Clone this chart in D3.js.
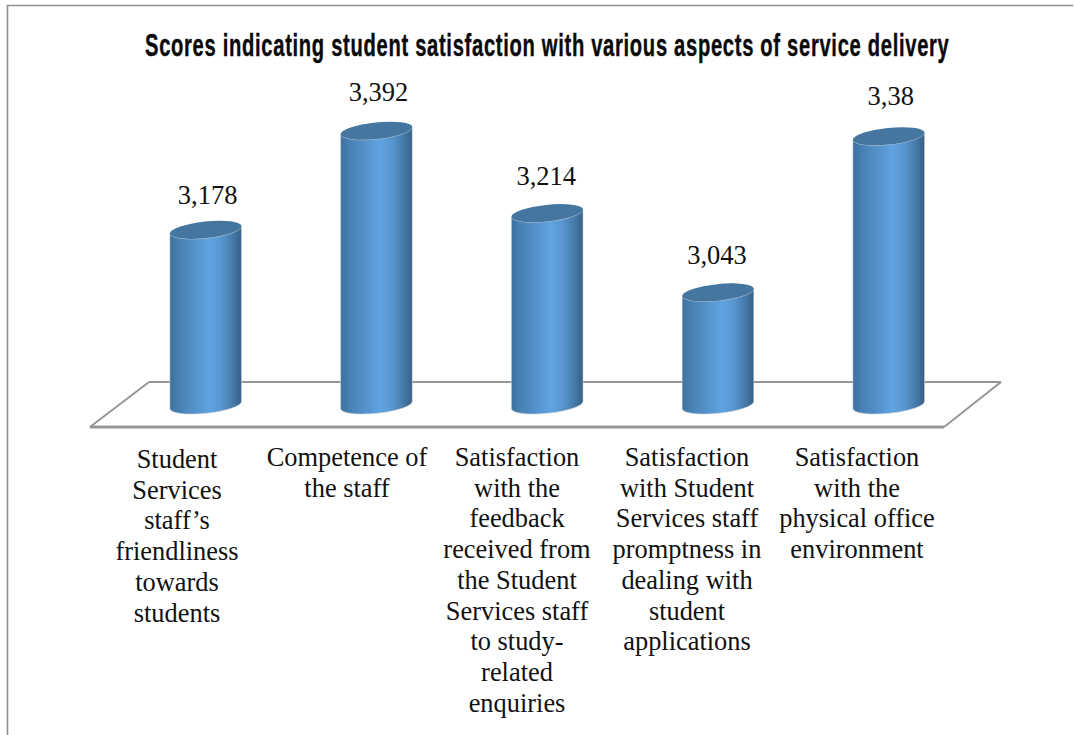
<!DOCTYPE html>
<html><head><meta charset="utf-8">
<script src="https://cdn.jsdelivr.net/npm/d3@7/dist/d3.min.js"></script>
<style>html,body{margin:0;padding:0;background:#fff;overflow:hidden}svg{display:block}</style>
</head><body>
<script>
const titleText = "Scores indicating student satisfaction with various aspects of service delivery";
const categories = ["friendliness","competence","feedback","promptness","environment"];
const categoryLines = [
  ["Student","Services","staff’s","friendliness","towards","students"],
  ["Competence of","the staff"],
  ["Satisfaction","with the","feedback","received from","the Student","Services staff","to study-","related","enquiries"],
  ["Satisfaction","with Student","Services staff","promptness in","dealing with","student","applications"],
  ["Satisfaction","with the","physical office","environment"]
];
const values = [3.178, 3.392, 3.214, 3.043, 3.38];
const labelNudgeX = [2, 2, -1, -1, 2];
const labelNudgeY = [-26, -30, -28, -28, -31];

const W = 1074, H = 735;
const svg = d3.select("body").append("svg").attr("width", W).attr("height", H);
const defs = svg.append("defs");
const grad = defs.append("linearGradient").attr("id","cyl").attr("x1","0").attr("x2","1").attr("y1","0").attr("y2","0");
[[0,"#3c719f"],[0.12,"#4780b2"],[0.35,"#5592cb"],[0.55,"#5fa4e1"],[0.72,"#5896d0"],[0.88,"#467aa8"],[1,"#365f86"]]
  .forEach(([o,c]) => grad.append("stop").attr("offset",o).attr("stop-color",c));

const x = d3.scaleBand().domain(categories).range([120.3, 974.1]).paddingInner(0.578).paddingOuter(0.289);
const y = d3.scaleLinear().domain([2.8, 3.4]).range([405, 127]);
const labelX = d3.scalePoint().domain(categories).range([177, 857]);

// frame
svg.append("path").attr("d",`M7.5,${H} V5.5 H${W-1}`).attr("fill","none").attr("stroke","#8f8f8f").attr("stroke-width",1.6);

// floor
const floor = d3.line();
const stroke = (d,w) => svg.append("path").attr("d", floor(d)).attr("stroke","#969696").attr("stroke-width",w).attr("fill","none");
stroke([[149,382],[1001,382]],2);
stroke([[149,382],[90,427]],2);
stroke([[1001,382],[944,427]],2);
stroke([[90,427],[944,427]],3);

// cylinders
const tilt = 6 * Math.PI / 180;
const g = svg.append("g");
categories.forEach((c,i) => {
  const rx = x.bandwidth()/2, ry = 8.3;
  const cx = x(c) + rx;
  const dx = rx*Math.cos(tilt), dy = rx*Math.sin(tilt);
  const yt = y(values[i]), yb = y.range()[0];
  const body = `M${cx-dx},${yt+dy} L${cx-dx},${yb+dy} A${rx},${ry} -6 0 0 ${cx+dx},${yb-dy} L${cx+dx},${yt-dy} A${rx},${ry} -6 0 1 ${cx-dx},${yt+dy} Z`;
  g.append("path").attr("d",body).attr("fill","url(#cyl)").attr("stroke","#d9d9d9").attr("stroke-width",0.8).attr("stroke-opacity",0.7);
  g.append("ellipse").attr("cx",cx).attr("cy",yt).attr("rx",rx).attr("ry",ry)
    .attr("transform",`rotate(-6 ${cx} ${yt})`).attr("fill","#44769f");
  svg.append("text").attr("x",cx+labelNudgeX[i]).attr("y",yt+labelNudgeY[i]).attr("text-anchor","middle")
    .attr("font-family","'Liberation Serif'").attr("font-size",26.5).attr("fill","#111")
    .text(String(values[i]).replace(".",","));
});

// category labels
categories.forEach((c,i) => {
  const t = svg.append("text").attr("text-anchor","middle")
    .attr("font-family","'Liberation Serif'").attr("font-size",26.4).attr("fill","#111");
  categoryLines[i].forEach((ln,j) => {
    t.append("tspan").attr("x",labelX(c)).attr("y",(i===0?468:466)+j*30.7).text(ln);
  });
});

// title
const title = svg.append("text").attr("font-family","'Liberation Sans Narrow','Liberation Sans'")
  .attr("font-weight","bold").attr("font-size",26).attr("letter-spacing",0.9)
  .attr("fill","#0a0a0a").attr("stroke","#0a0a0a").attr("stroke-width",0.35).text(titleText);
const tw = title.node().getComputedTextLength();
title.attr("transform",`translate(145,56) scale(${805/tw},1.22)`);
</script>
</body></html>
